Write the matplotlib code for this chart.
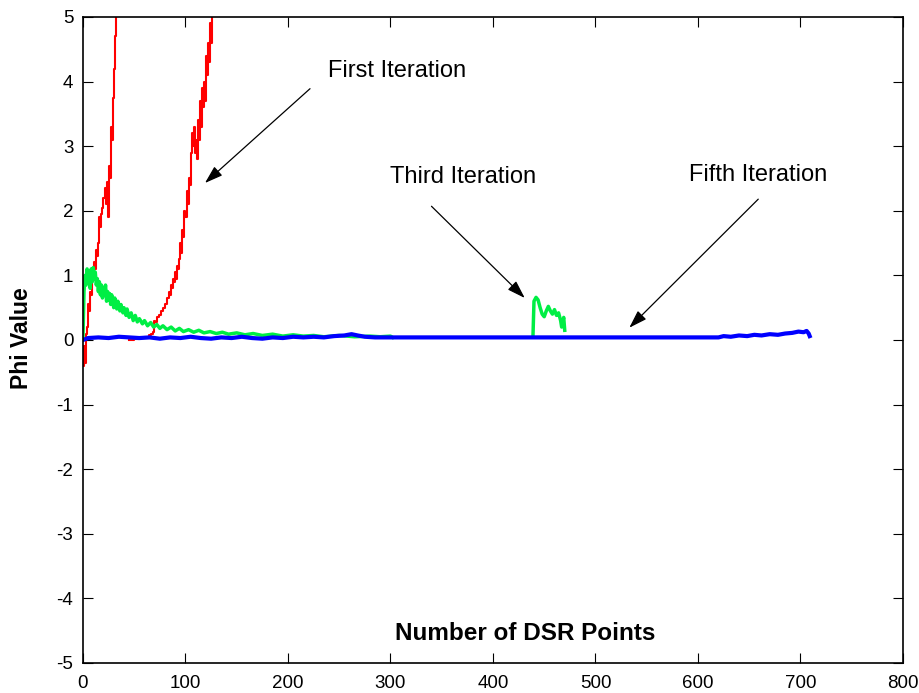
import numpy as np
import matplotlib
matplotlib.use("Agg")
import matplotlib.pyplot as plt

plt.rcParams["font.family"] = ["Liberation Sans", "DejaVu Sans"]
plt.rcParams["axes.unicode_minus"] = False

# first iteration, early blow-up
red_a_x = [0, 1, 2, 3, 4, 5, 6, 7, 8, 9, 10, 11, 12, 13, 14, 15, 16, 17, 18, 19,
           20, 21, 22, 23, 24, 25, 26, 27, 28, 29, 30, 31, 32]
red_a_y = [-0.4, -0.1, -0.35, 0.1, 0.2, 0.55, 0.45, 0.75, 0.7, 0.95, 1.05, 1.2, 1.1,
           1.4, 1.3, 1.5, 1.9, 1.75, 1.95, 2.05, 2.2, 2.35, 2.1, 2.45, 1.9, 2.7, 2.5,
           3.3, 3.1, 3.75, 4.2, 4.7, 5.3]

# first iteration, second rise
red_b_x = [45, 50, 55, 60, 64, 66, 68, 69, 70, 72, 74, 76, 78, 80, 82, 84, 85, 86,
           87, 88, 89, 90, 91, 92, 93, 94, 95, 96, 97, 98, 99, 100, 101, 102, 103,
           104, 105, 106, 107, 108, 109, 110, 111, 112, 113, 114, 115, 116, 117,
           118, 119, 120, 121, 122, 123, 124, 125, 126]
red_b_y = [0.0, 0.02, 0.03, 0.05, 0.08, 0.1, 0.12, 0.3, 0.28, 0.35, 0.38, 0.45, 0.5,
           0.55, 0.65, 0.75, 0.7, 0.85, 0.8, 0.95, 0.9, 1.05, 0.95, 1.15, 1.1, 1.25,
           1.5, 1.35, 1.7, 1.6, 2.0, 1.9, 2.3, 2.1, 2.5, 2.4, 2.9, 3.2, 3.0, 3.3, 2.9,
           3.1, 2.8, 3.4, 3.1, 3.7, 3.3, 3.9, 3.6, 4.0, 3.7, 4.4, 4.1, 4.6, 4.3, 4.9,
           4.6, 5.3]

# third iteration
green_a_x = [0, 1, 2, 3, 4, 5, 6, 7, 8, 9, 10, 11, 12, 13, 14, 15, 16, 17, 18, 19,
             20, 21, 22, 23, 24, 25, 26, 27, 28, 30, 31, 33, 34, 36, 37, 39, 40, 42,
             43, 45, 47, 49, 51, 53, 55, 58, 60, 63, 66, 69, 72, 75, 78, 82, 86, 90,
             94, 98, 103, 108, 113, 118, 124, 130, 136, 142, 150, 158, 166, 175, 185,
             195, 205, 215, 225, 235, 250, 265, 280, 290, 300, 302]
green_a_y = [0.05, 0.75, 1.0, 0.85, 1.1, 0.95, 1.05, 0.8, 1.1, 0.9, 1.12, 0.95, 1.05,
             0.85, 0.95, 0.75, 0.9, 0.7, 0.85, 0.65, 0.8, 0.7, 0.85, 0.6, 0.75, 0.62,
             0.72, 0.55, 0.7, 0.5, 0.65, 0.48, 0.6, 0.45, 0.55, 0.42, 0.5, 0.38, 0.48,
             0.35, 0.42, 0.3, 0.38, 0.28, 0.33, 0.25, 0.3, 0.22, 0.27, 0.2, 0.24, 0.18,
             0.22, 0.16, 0.2, 0.14, 0.18, 0.13, 0.16, 0.12, 0.15, 0.11, 0.13, 0.1, 0.12,
             0.09, 0.11, 0.08, 0.1, 0.07, 0.09, 0.06, 0.08, 0.06, 0.07, 0.05, 0.07,
             0.05, 0.06, 0.05, 0.06, 0.04]

green_b_x = [439, 440, 442, 444, 446, 448, 450, 452, 454, 456, 458, 460, 462, 464,
             466, 467, 469, 470]
green_b_y = [0.05, 0.6, 0.66, 0.62, 0.5, 0.4, 0.36, 0.45, 0.52, 0.45, 0.4, 0.47, 0.38,
             0.42, 0.3, 0.2, 0.35, 0.15]

# fifth iteration
blue_x = [0, 5, 15, 25, 35, 45, 55, 65, 75, 85, 95, 105, 115, 125, 135, 145, 155, 165,
          175, 185, 195, 205, 215, 225, 235, 245, 255, 262, 268, 275, 285, 300, 400,
          500, 620, 625, 632, 640, 648, 655, 662, 670, 678, 685, 692, 698, 703, 706,
          708, 709]
blue_y = [0.0, 0.03, 0.04, 0.03, 0.05, 0.04, 0.03, 0.04, 0.02, 0.04, 0.03, 0.05, 0.03,
          0.02, 0.04, 0.03, 0.05, 0.03, 0.02, 0.04, 0.03, 0.05, 0.04, 0.05, 0.04, 0.06,
          0.07, 0.09, 0.07, 0.05, 0.04, 0.04, 0.04, 0.04, 0.04, 0.06, 0.05, 0.07, 0.06,
          0.08, 0.07, 0.09, 0.08, 0.1, 0.11, 0.13, 0.12, 0.14, 0.1, 0.06]

fig = plt.figure(figsize=(9.2, 6.93), dpi=100)
ax = fig.add_axes([0.0902, 0.0433, 0.8913, 0.9322])

ax.plot(red_a_x, red_a_y, color="#ff0000", lw=1.5, drawstyle="steps-post")
ax.plot(red_b_x, red_b_y, color="#ff0000", lw=1.5, drawstyle="steps-post")
ax.plot(green_a_x, green_a_y, color="#00ee44", lw=2.5)
ax.plot(green_b_x, green_b_y, color="#00ee44", lw=2.5)
ax.plot(blue_x, blue_y, color="#0000ff", lw=3)

ax.set_xlim(0, 800)
ax.set_ylim(-5, 5)
ax.set_xticks(np.arange(0, 801, 100))
ax.set_yticks(np.arange(-5, 6, 1))
ax.tick_params(direction="in", top=True, right=True, length=7, labelsize=13.5)
ax.tick_params(axis="x", pad=9)
ax.tick_params(axis="y", pad=7)
for s in ax.spines.values():
    s.set_linewidth(1.2)

ax.set_xlabel("Number of DSR Points", fontsize=17.5, fontweight="bold")
ax.xaxis.set_label_coords(0.539, 0.063)
ax.set_ylabel("Phi Value", fontsize=16.5, fontweight="bold")
ax.yaxis.set_label_coords(-0.061, 0.503)

arrow = dict(arrowstyle="-|>,head_length=1.1,head_width=0.36", color="black",
             lw=0.9, mutation_scale=10, shrinkA=0, shrinkB=0)
ax.text(306, 4.16, "First Iteration", fontsize=17, ha="center", va="center")
ax.annotate("", xy=(119, 2.43), xytext=(221.5, 3.89), arrowprops=arrow)
ax.text(370.7, 2.52, "Third Iteration", fontsize=17, ha="center", va="center")
ax.annotate("", xy=(431, 0.65), xytext=(340, 2.07), arrowprops=arrow)
ax.text(658.5, 2.55, "Fifth Iteration", fontsize=17, ha="center", va="center")
ax.annotate("", xy=(533, 0.19), xytext=(658.8, 2.18), arrowprops=arrow)

fig.savefig("out.png", dpi=100)
